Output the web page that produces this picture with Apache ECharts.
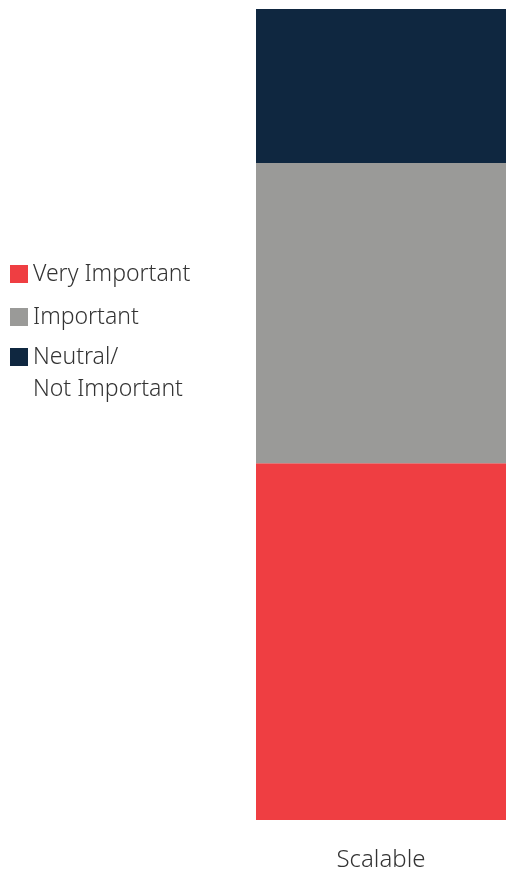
<!DOCTYPE html>
<html><head><meta charset="utf-8">
<script src="https://cdn.jsdelivr.net/npm/echarts@6/dist/echarts.min.js"></script>
<style>html,body{margin:0;padding:0;background:#fff}#c{width:506px;height:869px}</style>
</head><body><div id="c"></div>
<script>
const categories = ['Scalable'];
const seriesNames = ['Very Important', 'Important', 'Neutral/\nNot Important'];
const veryImportant = [44];
const important = [37];
const neutral = [19];
const colors = ['#EF3E42', '#9A9A98', '#0F2740'];
const FONT = 'Noto Sans';
const chart = echarts.init(document.getElementById('c'));
const txt = {fontFamily: FONT, fontWeight: 300, fontSize: 23, color: '#333', lineHeight: 32};
const legendBase = {orient: 'vertical', left: 10, padding: 0, itemWidth: 18, itemHeight: 18, itemGap: 11,
  icon: 'rect', textStyle: txt, selectedMode: false};
chart.setOption({
  animation: false,
  color: colors,
  legend: [
    Object.assign({}, legendBase, {top: 258, data: [seriesNames[0], seriesNames[1]]}),
    Object.assign({}, legendBase, {top: 309, data: [seriesNames[2]], formatter: n => '\n' + n})
  ],
  grid: {left: 256, right: 0, top: 9, bottom: 49, containLabel: false, outerBoundsMode: 'none'},
  xAxis: {type: 'category', data: categories, axisLine: {show: false}, axisTick: {show: false},
    axisLabel: {margin: 28, fontFamily: FONT, fontWeight: 300, fontSize: 24, color: '#333'}},
  yAxis: {type: 'value', min: 0, max: 100, show: false},
  series: [
    {name: seriesNames[0], type: 'bar', stack: 't', data: veryImportant, barWidth: '100%'},
    {name: seriesNames[1], type: 'bar', stack: 't', data: important, barWidth: '100%'},
    {name: seriesNames[2], type: 'bar', stack: 't', data: neutral, barWidth: '100%'}
  ]
});
</script></body></html>
